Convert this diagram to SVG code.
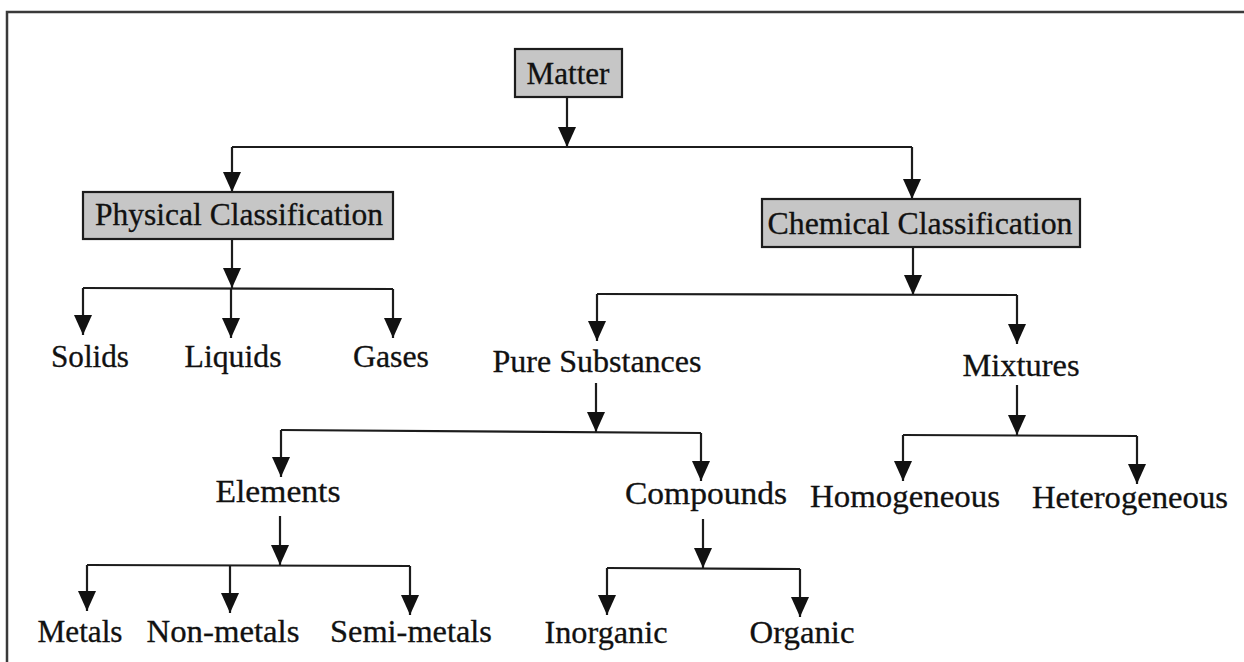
<svg xmlns="http://www.w3.org/2000/svg" width="1244" height="662" viewBox="0 0 1244 662">
<style>
.t{font-family:"Liberation Serif","DejaVu Serif",serif;font-size:31px;fill:#111;stroke:#111;stroke-width:0.3;text-anchor:middle}
.box{fill:#c6c6c6;stroke:#1c1c1c;stroke-width:2.2}
.c{fill:none;stroke:#1c1c1c;stroke-width:2.2}
.a{fill:none;stroke:#1c1c1c;stroke-width:2.2;marker-end:url(#ah)}
.frame{fill:none;stroke:#3a3a3a;stroke-width:2.5}
</style>
<defs>
<marker id="ah" markerUnits="userSpaceOnUse" viewBox="0 0 20 18" refX="20" refY="9" markerWidth="20" markerHeight="18" orient="auto">
<path d="M0,0 L20,9 L0,18 z" fill="#111"/>
</marker>
</defs>
<rect width="1244" height="662" fill="#ffffff"/>
<path class="frame" d="M7,662 L7,12 L1244,12"/>

<g id="connectors">
<path class="a" d="M567,97 L567,147"/>
<path class="c" d="M232,147 L912,147"/>
<path class="a" d="M232,147 L232,192"/>
<path class="a" d="M912,147 L912,199"/>
<path class="a" d="M232,239 L232,288"/>
<path class="c" d="M83,288 L393,289"/>
<path class="a" d="M83,288 L83,335"/>
<path class="a" d="M231,288 L231,338"/>
<path class="a" d="M393,289 L393,338"/>
<path class="a" d="M913,247 L913,295"/>
<path class="c" d="M597,294 L1017,295"/>
<path class="a" d="M597,294 L597,341"/>
<path class="a" d="M1017,295 L1017,344"/>
<path class="a" d="M596,383 L596,432"/>
<path class="c" d="M281,430 L701,433"/>
<path class="a" d="M281,430 L281,477"/>
<path class="a" d="M701,433 L701,481"/>
<path class="a" d="M1017,385 L1017,435"/>
<path class="c" d="M903,435 L1137,436"/>
<path class="a" d="M903,435 L903,481"/>
<path class="a" d="M1137,436 L1137,484"/>
<path class="a" d="M280,516 L280,565"/>
<path class="c" d="M87,565 L410,566"/>
<path class="a" d="M87,565 L87,611"/>
<path class="a" d="M230,565 L230,613"/>
<path class="a" d="M410,566 L410,615"/>
<path class="a" d="M703,519 L703,568"/>
<path class="c" d="M607,568 L800,569"/>
<path class="a" d="M607,568 L607,615"/>
<path class="a" d="M800,569 L800,617"/>
</g>

<g id="matter"><rect class="box" x="515" y="49" width="107" height="48"/><text class="t" x="568" y="84" textLength="83" lengthAdjust="spacingAndGlyphs">Matter</text></g>
<g id="physical"><rect class="box" x="83" y="192" width="310" height="47"/><text class="t" x="239" y="225" textLength="288" lengthAdjust="spacingAndGlyphs">Physical Classification</text></g>
<g id="chemical"><rect class="box" x="762" y="199" width="318" height="48"/><text class="t" x="920" y="234" textLength="305" lengthAdjust="spacingAndGlyphs">Chemical Classification</text></g>
<g id="solids"><text class="t" x="90" y="367" textLength="78" lengthAdjust="spacingAndGlyphs">Solids</text></g>
<g id="liquids"><text class="t" x="233" y="367" textLength="97" lengthAdjust="spacingAndGlyphs">Liquids</text></g>
<g id="gases"><text class="t" x="391" y="367" textLength="76" lengthAdjust="spacingAndGlyphs">Gases</text></g>
<g id="pure"><text class="t" x="597" y="372" textLength="209" lengthAdjust="spacingAndGlyphs">Pure Substances</text></g>
<g id="mixtures"><text class="t" x="1021" y="376" textLength="117" lengthAdjust="spacingAndGlyphs">Mixtures</text></g>
<g id="elements"><text class="t" x="278" y="502" textLength="125" lengthAdjust="spacingAndGlyphs">Elements</text></g>
<g id="compounds"><text class="t" x="706" y="504" textLength="162" lengthAdjust="spacingAndGlyphs">Compounds</text></g>
<g id="homogeneous"><text class="t" x="905" y="507" textLength="190" lengthAdjust="spacingAndGlyphs">Homogeneous</text></g>
<g id="heterogeneous"><text class="t" x="1130" y="508" textLength="196" lengthAdjust="spacingAndGlyphs">Heterogeneous</text></g>
<g id="metals"><text class="t" x="80" y="642" textLength="85" lengthAdjust="spacingAndGlyphs">Metals</text></g>
<g id="nonmetals"><text class="t" x="223" y="642" textLength="153" lengthAdjust="spacingAndGlyphs">Non-metals</text></g>
<g id="semimetals"><text class="t" x="411" y="642" textLength="162" lengthAdjust="spacingAndGlyphs">Semi-metals</text></g>
<g id="inorganic"><text class="t" x="606" y="643" textLength="123" lengthAdjust="spacingAndGlyphs">Inorganic</text></g>
<g id="organic"><text class="t" x="802" y="643" textLength="105" lengthAdjust="spacingAndGlyphs">Organic</text></g>
</svg>
